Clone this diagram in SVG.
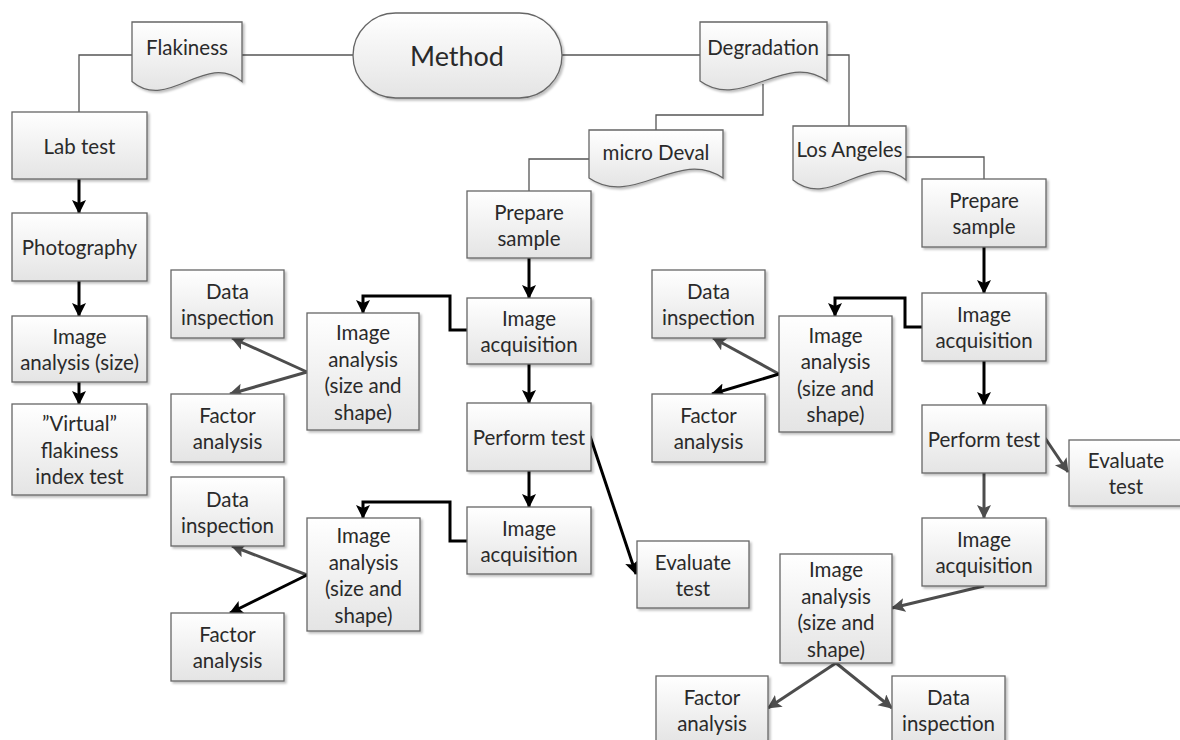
<svg xmlns="http://www.w3.org/2000/svg" width="1180" height="740" viewBox="0 0 1180 740">
<defs>
  <linearGradient id="fillG" x1="0" y1="0" x2="0" y2="1">
    <stop offset="0" stop-color="#ffffff"/>
    <stop offset="1" stop-color="#e4e4e4"/>
  </linearGradient>
  <filter id="sh" x="-10%" y="-10%" width="130%" height="130%">
    <feDropShadow dx="2" dy="2" stdDeviation="1.2" flood-color="#000" flood-opacity="0.25"/>
  </filter>
  <marker id="ab" markerUnits="userSpaceOnUse" markerWidth="16" markerHeight="16" refX="13" refY="7" orient="auto">
    <path d="M0,0 L14,7 L0,14 L3,7 Z" fill="#000"/>
  </marker>
  <marker id="ag" markerUnits="userSpaceOnUse" markerWidth="16" markerHeight="16" refX="13" refY="7" orient="auto">
    <path d="M0,0 L14,7 L0,14 L3,7 Z" fill="#4d4d4d"/>
  </marker>
</defs>
<style>
  .box { fill: url(#fillG); stroke: #666; stroke-width: 1.3; filter: url(#sh); }
  .t { font-family: Lato, "Liberation Sans", sans-serif; font-size: 20.5px; fill: #2a2a2a; text-anchor: middle; dominant-baseline: central; }
  .big { font-size: 27px; }
  .ln { fill: none; stroke: #555; stroke-width: 1.3; }
  .ab { fill: none; stroke: #000; stroke-width: 3; marker-end: url(#ab); }
  .ag { fill: none; stroke: #4d4d4d; stroke-width: 3; marker-end: url(#ag); }
</style>
<rect width="1180" height="740" fill="#fff"/>

<g id="connectors">
  <polyline class="ln" points="132,55 79,55 79,112"/>
  <line class="ln" x1="242" y1="55" x2="353" y2="55"/>
  <line class="ln" x1="562" y1="55" x2="700" y2="55"/>
  <polyline class="ln" points="763,84 763,115 656,115 656,130"/>
  <polyline class="ln" points="827,55 849,55 849,126"/>
  <polyline class="ln" points="589,159 529,159 529,191"/>
  <polyline class="ln" points="906,157 984,157 984,179"/>

  <line class="ab" x1="79" y1="179" x2="79" y2="213"/>
  <line class="ab" x1="79" y1="281" x2="79" y2="316"/>
  <line class="ab" x1="79" y1="382" x2="79" y2="404"/>

  <line class="ab" x1="529" y1="258" x2="529" y2="298"/>
  <line class="ab" x1="529" y1="364" x2="529" y2="403"/>
  <line class="ab" x1="529" y1="471" x2="529" y2="507"/>
  <line class="ab" x1="590" y1="436" x2="636" y2="574"/>
  <polyline class="ab" points="467,330 450,330 450,296 363,296 363,313"/>
  <line class="ag" x1="307" y1="372" x2="232" y2="338"/>
  <line class="ag" x1="307" y1="372" x2="230" y2="394"/>
  <polyline class="ab" points="467,541 450,541 450,502 363,502 363,518"/>
  <line class="ag" x1="307" y1="575" x2="232" y2="546"/>
  <line class="ab" x1="307" y1="575" x2="230" y2="613"/>

  <line class="ab" x1="984" y1="247" x2="984" y2="293"/>
  <polyline class="ab" points="922,327 905,327 905,298 835,298 835,316"/>
  <line class="ag" x1="779" y1="374" x2="713" y2="338"/>
  <line class="ab" x1="779" y1="374" x2="712" y2="394"/>
  <line class="ab" x1="984" y1="361" x2="984" y2="405"/>
  <line class="ag" x1="1045" y1="438" x2="1068" y2="472"/>
  <line class="ag" x1="984" y1="473" x2="984" y2="518"/>
  <line class="ag" x1="984" y1="586" x2="892" y2="608"/>
  <line class="ag" x1="836" y1="663" x2="768" y2="708"/>
  <line class="ag" x1="836" y1="663" x2="892" y2="708"/>
</g>

<g id="method">
  <rect class="box" x="353" y="13" width="209" height="85" rx="42.5" ry="42.5"/>
  <text class="t big" x="457" y="55">Method</text>
</g>
<g id="flakiness">
  <path class="box" d="M132,22 H242 V81.5 C205.3,50.5 168.7,112.5 132,81.5 Z"/>
  <text class="t" x="187" y="47">Flakiness</text>
</g>
<g id="degradation">
  <path class="box" d="M700,22 H827 V81 C784.7,50 742.3,112 700,81 Z"/>
  <text class="t" x="763" y="47">Degradation</text>
</g>
<g id="micro-deval">
  <path class="box" d="M589,130 H723 V178 C678.3,147 633.7,209 589,178 Z"/>
  <text class="t" x="656" y="152">micro Deval</text>
</g>
<g id="los-angeles">
  <path class="box" d="M793,126 H906 V180 C868.3,149 830.7,211 793,180 Z"/>
  <text class="t" x="849.5" y="149">Los Angeles</text>
</g>

<g id="lab-test">
  <rect class="box" x="12" y="112" width="135" height="67"/>
  <text class="t" x="79.5" y="145.5">Lab test</text>
</g>
<g id="photography">
  <rect class="box" x="12" y="213" width="135" height="68"/>
  <text class="t" x="79.5" y="247">Photography</text>
</g>
<g id="image-analysis-size">
  <rect class="box" x="12" y="316" width="135" height="66"/>
  <text class="t" x="79.5" y="336">Image</text>
  <text class="t" x="79.5" y="362">analysis (size)</text>
</g>
<g id="virtual-flakiness">
  <rect class="box" x="12" y="404" width="135" height="91"/>
  <text class="t" x="79.5" y="423">”Virtual”</text>
  <text class="t" x="79.5" y="449.5">flakiness</text>
  <text class="t" x="79.5" y="476">index test</text>
</g>

<g id="md-prepare-sample">
  <rect class="box" x="467" y="191" width="124" height="67"/>
  <text class="t" x="529" y="211.5">Prepare</text>
  <text class="t" x="529" y="237.5">sample</text>
</g>
<g id="md-image-acquisition-1">
  <rect class="box" x="467" y="298" width="124" height="66"/>
  <text class="t" x="529" y="318">Image</text>
  <text class="t" x="529" y="344">acquisition</text>
</g>
<g id="md-perform-test">
  <rect class="box" x="467" y="403" width="124" height="68"/>
  <text class="t" x="529" y="437">Perform test</text>
</g>
<g id="md-image-acquisition-2">
  <rect class="box" x="467" y="507" width="124" height="67"/>
  <text class="t" x="529" y="527.5">Image</text>
  <text class="t" x="529" y="553.5">acquisition</text>
</g>
<g id="md-evaluate-test">
  <rect class="box" x="637" y="541" width="112" height="67"/>
  <text class="t" x="693" y="561.5">Evaluate</text>
  <text class="t" x="693" y="587.5">test</text>
</g>
<g id="md-data-inspection-1">
  <rect class="box" x="171" y="270" width="113" height="68"/>
  <text class="t" x="227.5" y="291">Data</text>
  <text class="t" x="227.5" y="317">inspection</text>
</g>
<g id="md-factor-analysis-1">
  <rect class="box" x="171" y="394" width="113" height="68"/>
  <text class="t" x="227.5" y="415">Factor</text>
  <text class="t" x="227.5" y="441">analysis</text>
</g>
<g id="md-image-analysis-1">
  <rect class="box" x="307" y="313" width="112" height="117"/>
  <text class="t" x="363" y="332">Image</text>
  <text class="t" x="363" y="358.5">analysis</text>
  <text class="t" x="363" y="385">(size and</text>
  <text class="t" x="363" y="411.5">shape)</text>
</g>
<g id="md-data-inspection-2">
  <rect class="box" x="171" y="477" width="113" height="69"/>
  <text class="t" x="227.5" y="498.5">Data</text>
  <text class="t" x="227.5" y="524.5">inspection</text>
</g>
<g id="md-factor-analysis-2">
  <rect class="box" x="171" y="613" width="113" height="68"/>
  <text class="t" x="227.5" y="634">Factor</text>
  <text class="t" x="227.5" y="660">analysis</text>
</g>
<g id="md-image-analysis-2">
  <rect class="box" x="307" y="518" width="113" height="113"/>
  <text class="t" x="363.5" y="535">Image</text>
  <text class="t" x="363.5" y="561.5">analysis</text>
  <text class="t" x="363.5" y="588">(size and</text>
  <text class="t" x="363.5" y="614.5">shape)</text>
</g>

<g id="la-prepare-sample">
  <rect class="box" x="922" y="179" width="124" height="68"/>
  <text class="t" x="984" y="200">Prepare</text>
  <text class="t" x="984" y="226">sample</text>
</g>
<g id="la-image-acquisition-1">
  <rect class="box" x="922" y="293" width="124" height="68"/>
  <text class="t" x="984" y="314">Image</text>
  <text class="t" x="984" y="340">acquisition</text>
</g>
<g id="la-perform-test">
  <rect class="box" x="922" y="405" width="124" height="68"/>
  <text class="t" x="984" y="439">Perform test</text>
</g>
<g id="la-evaluate-test">
  <rect class="box" x="1069" y="440" width="115" height="66"/>
  <text class="t" x="1126" y="460">Evaluate</text>
  <text class="t" x="1126" y="486">test</text>
</g>
<g id="la-image-acquisition-2">
  <rect class="box" x="922" y="518" width="124" height="68"/>
  <text class="t" x="984" y="539">Image</text>
  <text class="t" x="984" y="565">acquisition</text>
</g>
<g id="la-data-inspection-1">
  <rect class="box" x="652" y="270" width="113" height="68"/>
  <text class="t" x="708.5" y="291">Data</text>
  <text class="t" x="708.5" y="317">inspection</text>
</g>
<g id="la-factor-analysis-1">
  <rect class="box" x="652" y="394" width="113" height="68"/>
  <text class="t" x="708.5" y="415">Factor</text>
  <text class="t" x="708.5" y="441">analysis</text>
</g>
<g id="la-image-analysis-1">
  <rect class="box" x="779" y="316" width="113" height="116"/>
  <text class="t" x="835.5" y="334.5">Image</text>
  <text class="t" x="835.5" y="361">analysis</text>
  <text class="t" x="835.5" y="387.5">(size and</text>
  <text class="t" x="835.5" y="414">shape)</text>
</g>
<g id="la-image-analysis-2">
  <rect class="box" x="780" y="554" width="112" height="109"/>
  <text class="t" x="836" y="569">Image</text>
  <text class="t" x="836" y="595.5">analysis</text>
  <text class="t" x="836" y="622">(size and</text>
  <text class="t" x="836" y="648.5">shape)</text>
</g>
<g id="la-factor-analysis-2">
  <rect class="box" x="656" y="676" width="112" height="68"/>
  <text class="t" x="712" y="697">Factor</text>
  <text class="t" x="712" y="723">analysis</text>
</g>
<g id="la-data-inspection-2">
  <rect class="box" x="892" y="676" width="113" height="68"/>
  <text class="t" x="948.5" y="697">Data</text>
  <text class="t" x="948.5" y="723">inspection</text>
</g>
</svg>
